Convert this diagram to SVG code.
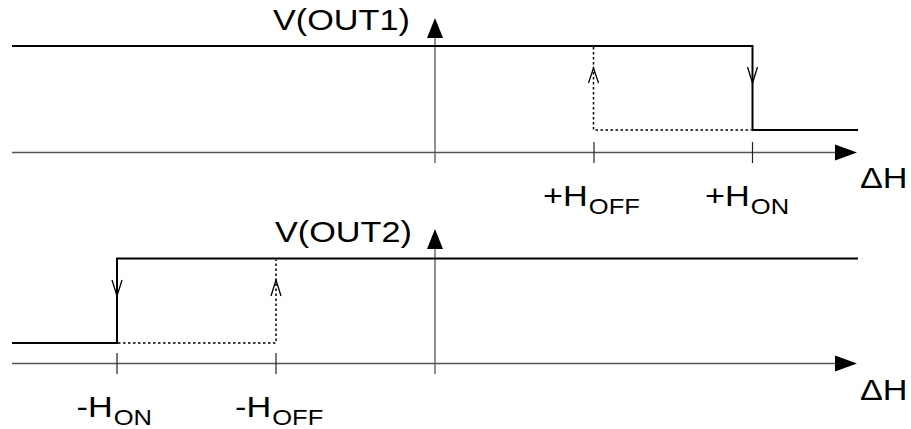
<svg xmlns="http://www.w3.org/2000/svg" width="911" height="429" viewBox="0 0 911 429">
<style>
.axis{stroke:#555;stroke-width:1.3;fill:none}
.tick{stroke:#222;stroke-width:1.2;fill:none}
.sig{stroke:#000;stroke-width:2;fill:none}
.dot{stroke:#000;stroke-width:1.5;fill:none;stroke-dasharray:2.5 2.5}
.open{stroke:#000;stroke-width:1.3;fill:none}
.head{fill:#000;stroke:none}
.lbl{font-family:"Liberation Sans",Arial,sans-serif;font-size:29.5px;fill:#000}
.sub{font-size:22px}
</style>
<rect width="911" height="429" fill="#fff"/>
<g id="connectors">
  <line class="axis" x1="12" y1="152.5" x2="838" y2="152.5"/>
  <polygon class="head" points="857,152.5 835,144.5 835,160.5"/>
  <line class="axis" x1="435" y1="163" x2="435" y2="36"/>
  <polygon class="head" points="435,18 427,38 443,38"/>
  <line class="tick" x1="594" y1="142" x2="594" y2="163"/>
  <line class="tick" x1="752.5" y1="142" x2="752.5" y2="163"/>
  <polyline class="dot" points="593.5,47 593.5,130 751.5,130"/>
  <polyline class="sig" points="12,46 752.5,46 752.5,130 858,130"/>
  <polyline class="open" points="588.5,83 593.5,68 598.5,83"/>
  <polyline class="open" points="747.5,67 752.5,83 757.5,67"/>
  <line class="axis" x1="12" y1="363.5" x2="838" y2="363.5"/>
  <polygon class="head" points="857,363.5 835,355.5 835,371.5"/>
  <line class="axis" x1="435" y1="374" x2="435" y2="247"/>
  <polygon class="head" points="435,229 427,249 443,249"/>
  <line class="tick" x1="117" y1="353" x2="117" y2="374"/>
  <line class="tick" x1="276" y1="353" x2="276" y2="374"/>
  <polyline class="dot" points="118,343 276,343 276,259.5"/>
  <polyline class="sig" points="12,343 117,343 117,258.5 858,258.5"/>
  <polyline class="open" points="112,280 117,296 122,280"/>
  <polyline class="open" points="271,296 276,280 281,296"/>
</g>
<g id="label-vout1"><text class="lbl" transform="translate(273,29.5) scale(1.16,1)">V(OUT1)</text></g>
<g id="label-vout2"><text class="lbl" transform="translate(275,241.5) scale(1.16,1)">V(OUT2)</text></g>
<g id="label-dh1"><text class="lbl" transform="translate(860,188) scale(1.16,1)">ΔH</text></g>
<g id="label-dh2"><text class="lbl" transform="translate(860,400) scale(1.16,1)">ΔH</text></g>
<g id="label-phoff"><text class="lbl" transform="translate(543,206) scale(1.16,1)">+H<tspan class="sub" dx="1" dy="8">OFF</tspan></text></g>
<g id="label-phon"><text class="lbl" transform="translate(705,206) scale(1.16,1)">+H<tspan class="sub" dx="1" dy="8">ON</tspan></text></g>
<g id="label-mhon"><text class="lbl" transform="translate(76.5,416.5) scale(1.16,1)">-H<tspan class="sub" dx="1" dy="8">ON</tspan></text></g>
<g id="label-mhoff"><text class="lbl" transform="translate(235,416.5) scale(1.16,1)">-H<tspan class="sub" dx="1" dy="8">OFF</tspan></text></g>
</svg>
